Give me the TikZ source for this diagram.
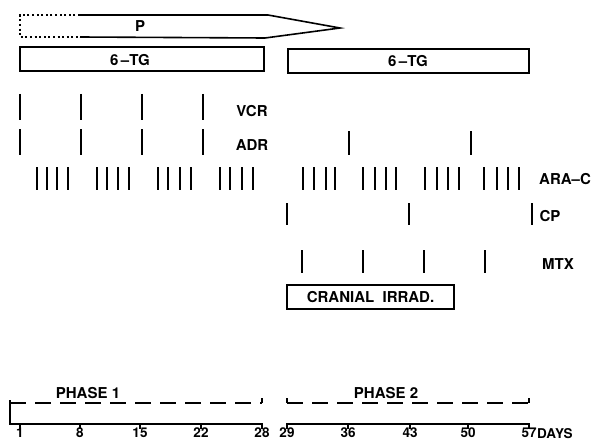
\documentclass[tikz,border=0pt]{standalone}
\usepackage{fontspec}
\setmainfont{TeX Gyre Heros}
\begin{document}
\begin{tikzpicture}[x=1pt,y=-1pt,
  bar/.style={line width=1.6pt},
  box/.style={line width=1.6pt},
  lbl/.style={font=\fontsize{15}{17}\selectfont\bfseries, inner sep=0pt},
  daylbl/.style={font=\fontsize{13.5}{15}\selectfont\bfseries, inner sep=0pt, anchor=north},
  phasedash/.style={line width=1.6pt, dash pattern=on 16pt off 9pt},
  dotline/.style={line width=2.2pt, dash pattern=on 2pt off 2.6pt},
  axisline/.style={line width=1.8pt}]
\useasboundingbox (0,0) rectangle (601,441);
% P arrow
\coordinate (pa) at (80,15);
\coordinate (pb) at (268,15);
\coordinate (ptip) at (340,28);
\coordinate (pc) at (265,38);
\coordinate (pd) at (80,37);
\coordinate (pe) at (20,15);
\coordinate (pf) at (20,37);
\draw[box, line join=miter] (pa) -- (pb) -- (ptip) -- (pc) -- (pd);
\draw[dotline] (pa) -- (pe) -- (pf) -- (pd);
\node[lbl] (P) at (140,26) {P};
% 6-TG boxes
\node[box, draw, minimum width=244pt, minimum height=24pt, inner sep=0pt] (tg1) at (142,59) {};
\node[lbl] (tg1l) at (130,60) {6\,–TG};
\node[box, draw, minimum width=241pt, minimum height=24pt, inner sep=0pt] (tg2) at (408.5,61) {};
\node[lbl] (tg2l) at (408,61) {6\,–TG};
% VCR
\foreach \x in {20,81,142,203} \draw[bar] (\x,94) -- (\x,120);
\node[lbl] (vcr) at (252,111) {VCR};
% ADR
\foreach \x in {20,81,142,203} \draw[bar] (\x,129) -- (\x,155);
\foreach \x in {349,471} \draw[bar] (\x,131) -- (\x,155);
\node[lbl] (adr) at (252,145) {ADR};
% ARA-C
\foreach \x in {37,47,57,68, 97,107,118,129, 158,168,180,191, 220,230,242,253,
                303,314,326,335, 363,375,386,396, 425,437,448,459, 484,497,508,519}
  \draw[bar] (\x,167) -- (\x,190);
\node[lbl] (arac) at (565,179) {ARA–C};
% CP
\foreach \x in {287,409,532} \draw[bar] (\x,203) -- (\x,225);
\node[lbl] (cp) at (550,216) {CP};
% MTX
\foreach \x in {302,363,424,485} \draw[bar] (\x,250) -- (\x,273);
\node[lbl] (mtx) at (558,264) {MTX};
% Cranial irradiation
\node[box, draw, minimum width=167pt, minimum height=24pt, inner sep=0pt] (cran) at (370.5,297) {};
\node[lbl] (cranl) at (370.5,297.5) {CRANIAL\ \ IRRAD.};
% Phase dashed lines
\coordinate (ph1a) at (10,400);
\coordinate (ph1b) at (10,403);
\coordinate (ph1c) at (262,403);
\coordinate (ph1d) at (262,398);
\draw[phasedash] (ph1b) -- (ph1c);
\draw[line width=1.6pt] (ph1c) -- (ph1d);
\node[lbl] (ph1) at (88,393) {PHASE 1};
\coordinate (ph2a) at (287,398);
\coordinate (ph2b) at (287,403);
\coordinate (ph2c) at (529,403);
\coordinate (ph2d) at (529,398);
\draw[line width=1.6pt] (ph2a) -- (ph2b);
\draw[phasedash] (ph2b) -- (ph2c);
\draw[line width=1.6pt] (ph2c) -- (ph2d);
\node[lbl] (ph2) at (386,393) {PHASE 2};
% axes
\coordinate (ax1s) at (10,424);
\coordinate (ax1e) at (262,424);
\coordinate (ax2s) at (287,424);
\coordinate (ax2e) at (529,424);
\draw[axisline] (ph1a) -- (ax1s) -- (ax1e) -- ++(0,5);
\draw[axisline] (ax2s) ++(0,5) -- (ax2s) -- (ax2e) -- ++(0,5);
\foreach \x/\d in {20/1,80/8,140/15,201/22} {
  \draw[axisline] (\x,424) -- (\x,429);
  \node[daylbl] at (\x,428) {\d};
}
\node[daylbl] (d28) at (262,428) {28};
\foreach \x/\d in {348/36,410/43,468/50} {
  \draw[axisline] (\x,424) -- (\x,429);
  \node[daylbl] at (\x,428) {\d};
}
\node[daylbl] (d29) at (287,428) {29};
\node[daylbl] (d57) at (529,428) {57};
\node[daylbl, anchor=north west] (days) at (537,428) {DAYS};
\end{tikzpicture}
\end{document}
